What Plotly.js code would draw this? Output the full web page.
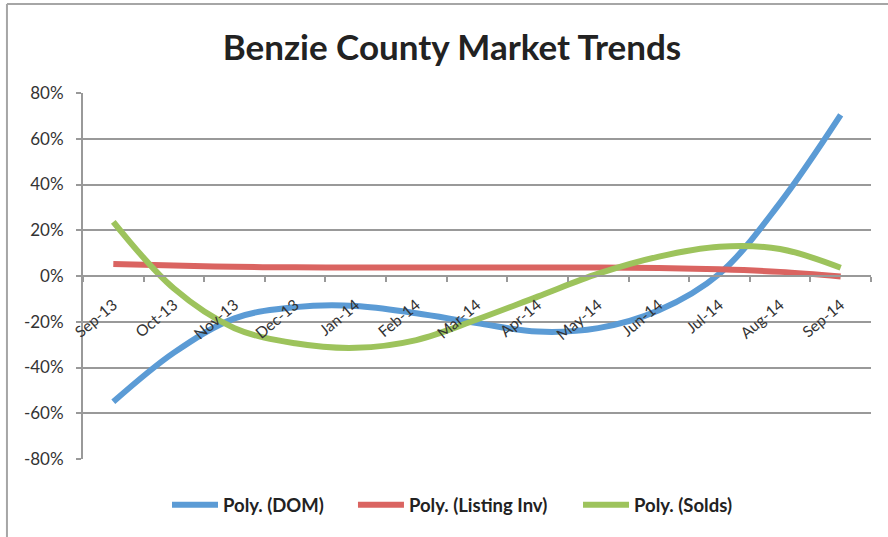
<!DOCTYPE html>
<html>
<head>
<meta charset="utf-8">
<script src="https://cdn.plot.ly/plotly-3.0.1.min.js"></script>
<style>html,body{margin:0;padding:0;background:#fff;}#chart{width:888px;height:537px;}</style>
</head>
<body>
<div id="chart"></div>
<script>
const months = ['Sep-13','Oct-13','Nov-13','Dec-13','Jan-14','Feb-14','Mar-14','Apr-14','May-14','Jun-14','Jul-14','Aug-14','Sep-14'];
const domValues = [-55, -33.5, -18.5, -13.6, -13.1, -16.3, -20.6, -24.3, -22.8, -15, 1, 32, 70.4];
const listingInvValues = [5.2, 4.6, 4.0, 3.8, 3.7, 3.7, 3.7, 3.7, 3.7, 3.5, 2.9, 1.8, -0.2];
const soldsValues = [23.7, -5.5, -22.8, -29.4, -31.4, -28, -19, -9, 1, 8.5, 12.8, 11.8, 3.6];
const yTickVals = [-80, -60, -40, -20, 0, 20, 40, 60, 80];
const yTickText = ['-80%', '-60%', '-40%', '-20%', '0%', '20%', '40%', '60%', '80%'];
const seriesNames = ['Poly. (DOM)', 'Poly. (Listing Inv)', 'Poly. (Solds)'];
const seriesColors = ['#5b9bd5', '#da6461', '#9dc35c'];

const FONT = 'Lato, "Open Sans", "DejaVu Sans", sans-serif';
const lineStyle = c => ({color: c, width: 6, shape: 'spline', smoothing: 1});

const traces = [
  {x: months, y: domValues, name: seriesNames[0], legend: 'legend', type: 'scatter', mode: 'lines', line: lineStyle(seriesColors[0])},
  {x: months, y: listingInvValues, name: seriesNames[1], legend: 'legend2', type: 'scatter', mode: 'lines', line: lineStyle(seriesColors[1])},
  {x: months, y: soldsValues, name: seriesNames[2], legend: 'legend3', type: 'scatter', mode: 'lines', line: lineStyle(seriesColors[2])}
];

const legendFont = {family: FONT, size: 18.5, color: '#222', weight: 'bold'};
const mkLegend = x => ({orientation: 'h', x: x, xanchor: 'left', y: -0.126, yanchor: 'middle', font: legendFont, itemwidth: 46, bgcolor: 'rgba(0,0,0,0)'});

const layout = {
  width: 888, height: 537,
  margin: {l: 83, r: 17, t: 93, b: 78},
  paper_bgcolor: '#fff', plot_bgcolor: '#fff',
  font: {family: FONT, color: '#333', size: 14},
  title: {text: 'Benzie County Market Trends', font: {family: FONT, size: 35, color: '#222', weight: 'bold'},
          x: 0.509, xanchor: 'center', xref: 'container', y: 0.912, yanchor: 'middle', yref: 'container'},
  showlegend: true,
  legend: mkLegend(0.1066),
  legend2: mkLegend(0.3426),
  legend3: mkLegend(0.6282),
  xaxis: {
    type: 'category', range: [-0.5, 12.5], anchor: 'free', position: 0.5,
    showgrid: false, zeroline: false, showline: true, linecolor: '#999', linewidth: 2,
    ticks: 'outside', tickson: 'boundaries', ticklen: 5, tickcolor: '#999', tickwidth: 2,
    tickangle: -40, ticklabelstandoff: 13, tickfont: {family: FONT, size: 15.5, color: '#333'}, fixedrange: true
  },
  yaxis: {
    range: [-80, 80], tickvals: yTickVals, ticktext: yTickText,
    showgrid: true, gridcolor: '#999', gridwidth: 2, zeroline: false,
    showline: true, linecolor: '#999', linewidth: 2,
    ticks: 'outside', ticklen: 5, tickcolor: '#999', tickwidth: 2, ticklabelstandoff: 9,
    tickfont: {family: FONT, size: 17, color: '#333'}, fixedrange: true
  },
  shapes: [
    {type: 'line', xref: 'paper', yref: 'paper', x0: -0.0965, x1: -0.0965, y0: -0.22, y1: 1.243, line: {color: '#a6a6a6', width: 2}},
    {type: 'line', xref: 'paper', yref: 'paper', x0: -0.0965, x1: 1.03, y0: 1.243, y1: 1.243, line: {color: '#a6a6a6', width: 2}}
  ]
};

Plotly.newPlot('chart', traces, layout, {displayModeBar: false, staticPlot: true});
</script>
</body>
</html>
